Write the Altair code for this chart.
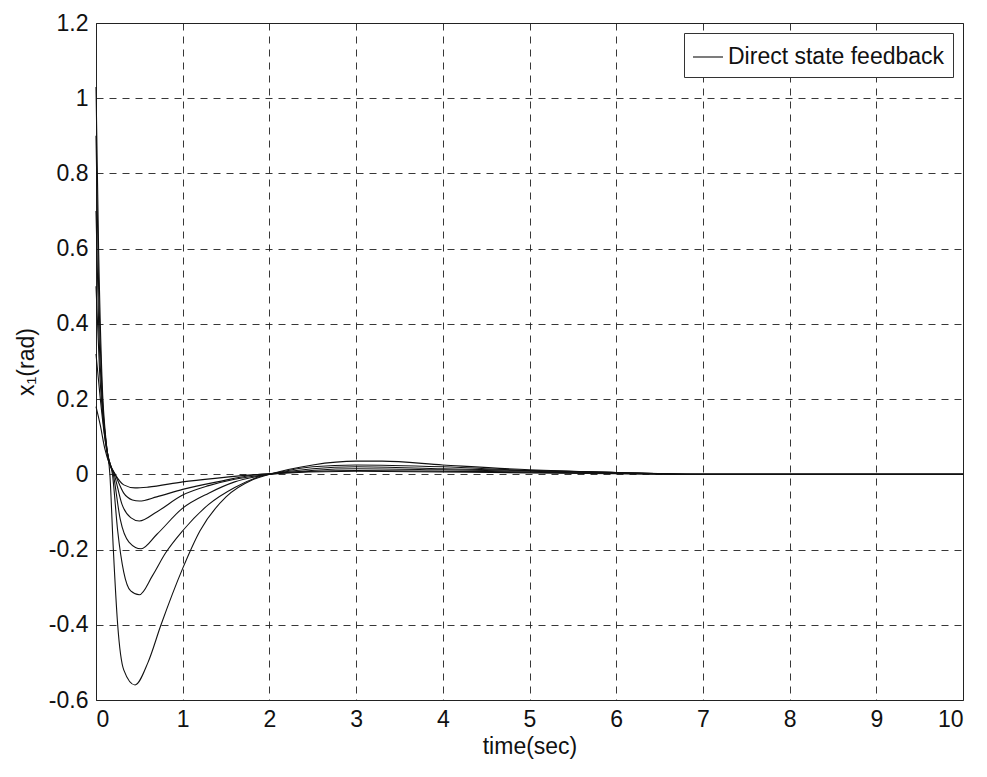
import altair as alt
import pandas as pd

LABEL = "Direct state feedback"

# Curve A (largest undershoot)
tA = [0, 0.03, 0.07, 0.12, 0.16, 0.2, 0.25, 0.32, 0.45, 0.6, 0.75, 1.0, 1.2, 1.5, 1.8, 2.0, 2.5, 3.0, 3.3, 4.0, 5.0, 6.0, 7.0, 10.0]
yA = [1.03, 0.6, 0.25, 0.08, 0.0, -0.2, -0.4, -0.52, -0.56, -0.5, -0.4, -0.25, -0.15, -0.06, -0.015, 0.0, 0.025, 0.035, 0.035, 0.025, 0.012, 0.005, 0.0, 0.0]
# Curve B
tB = [0, 0.03, 0.07, 0.13, 0.19, 0.25, 0.32, 0.4, 0.5, 0.65, 0.8, 1.0, 1.3, 1.6, 1.9, 2.1, 2.5, 3.0, 4.0, 5.0, 6.0, 7.0, 10.0]
yB = [0.9, 0.5, 0.22, 0.06, 0.0, -0.15, -0.26, -0.31, -0.32, -0.27, -0.21, -0.15, -0.08, -0.035, -0.005, 0.005, 0.02, 0.025, 0.02, 0.01, 0.005, 0.0, 0.0]
# Curve C
tC = [0, 0.03, 0.07, 0.13, 0.2, 0.28, 0.38, 0.52, 0.7, 1.0, 1.3, 1.6, 2.0, 2.5, 3.0, 4.0, 5.0, 6.0, 7.0, 10.0]
yC = [0.7, 0.4, 0.2, 0.06, 0.0, -0.12, -0.18, -0.198, -0.16, -0.09, -0.05, -0.02, 0.0, 0.015, 0.02, 0.015, 0.01, 0.005, 0.0, 0.0]
# Curve D
tD = [0, 0.04, 0.08, 0.14, 0.21, 0.3, 0.4, 0.5, 0.7, 1.0, 1.3, 1.6, 2.0, 3.0, 4.0, 5.0, 6.0, 7.0, 10.0]
yD = [0.5, 0.28, 0.15, 0.04, 0.0, -0.08, -0.115, -0.124, -0.1, -0.055, -0.03, -0.013, 0.0, 0.015, 0.012, 0.008, 0.004, 0.0, 0.0]
# Curve E
tE = [0, 0.05, 0.1, 0.16, 0.22, 0.32, 0.42, 0.5, 0.7, 1.0, 1.4, 1.9, 3.0, 5.0, 7.0, 10.0]
yE = [0.32, 0.2, 0.1, 0.03, 0.0, -0.05, -0.068, -0.071, -0.06, -0.04, -0.02, 0.0, 0.01, 0.006, 0.0, 0.0]
# Curve F (smallest undershoot)
tF = [0, 0.05, 0.1, 0.16, 0.22, 0.32, 0.45, 0.6, 1.0, 1.4, 1.9, 3.0, 5.0, 7.0, 10.0]
yF = [0.18, 0.13, 0.07, 0.025, 0.0, -0.028, -0.036, -0.034, -0.02, -0.01, 0.0, 0.008, 0.004, 0.0, 0.0]

curves = {"A": (tA, yA), "B": (tB, yB), "C": (tC, yC),
          "D": (tD, yD), "E": (tE, yE), "F": (tF, yF)}

rows = []
for cid, (ts, ys) in curves.items():
    for i, (t, y) in enumerate(zip(ts, ys)):
        rows.append({"curve": cid, "t": t, "y": y, "order": i, "series": LABEL})
df = pd.DataFrame(rows)

FONT = "Liberation Sans"
FS = 23

ylab = ("datum.value == 0 ? '0' : (datum.value < 0 ? '-' + format(-datum.value, '.1~f') "
        ": format(datum.value, '.1~f'))")

chart = alt.Chart(df).mark_line(strokeWidth=1.1, interpolate="monotone").encode(
    x=alt.X("t:Q", scale=alt.Scale(domain=[0, 10], nice=False),
            axis=alt.Axis(values=list(range(0, 11)), title="time(sec)", format="d")),
    y=alt.Y("y:Q", scale=alt.Scale(domain=[-0.6, 1.2], nice=False),
            axis=alt.Axis(values=[-0.6, -0.4, -0.2, 0, 0.2, 0.4, 0.6, 0.8, 1.0, 1.2],
                          title="x\u2081(rad)", labelExpr=ylab)),
    color=alt.Color("series:N", scale=alt.Scale(range=["#111111"]),
                    legend=alt.Legend(title=None, orient="top-right", offset=10,
                                      symbolType="stroke", symbolStrokeWidth=1.1,
                                      symbolSize=900,
                                      labelFontSize=FS, labelFont=FONT, labelColor="#111",
                                      strokeColor="#333", fillColor="white",
                                      padding=8, labelLimit=400)),
    detail="curve:N",
    order="order:Q",
).properties(width=867, height=677, padding={"left": 7, "top": 4, "right": 0, "bottom": 2}).configure_view(
    stroke="#222", strokeWidth=1
).configure_axis(
    grid=True, gridColor="#222", gridDash=[7, 6], gridWidth=1, gridOpacity=0.9,
    ticks=False, domain=False, labelFont=FONT, labelFontSize=FS, labelColor="#111",
    titleFont=FONT, titleFontSize=FS, titleFontWeight="normal", titleColor="#111",
    labelPadding=8
).configure_axisY(titlePadding=10).configure_axisX(titlePadding=4)

chart.save("out.html", embed_options={"renderer": "svg", "actions": False})
